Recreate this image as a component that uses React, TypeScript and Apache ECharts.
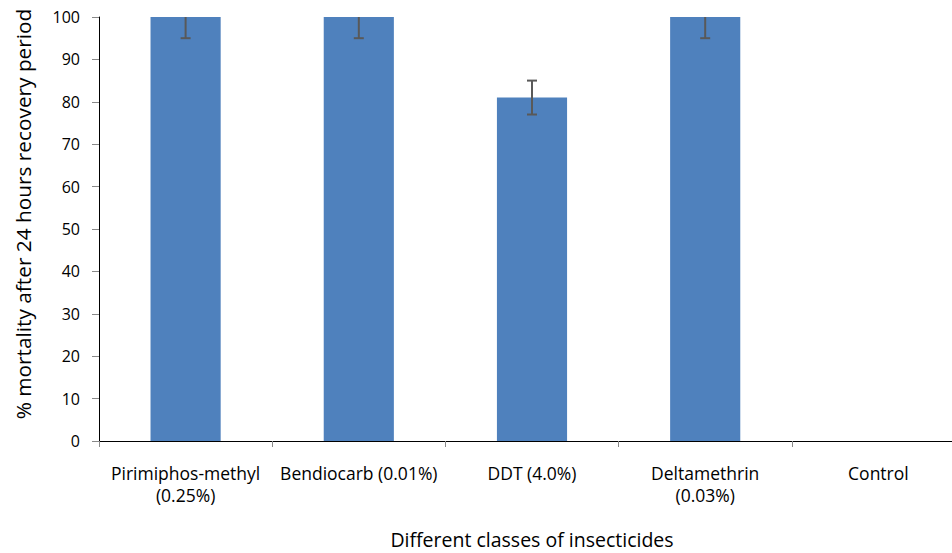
import React, { useEffect, useRef } from "react";
import * as echarts from "echarts";

const categories = [
  "Pirimiphos-methyl\n(0.25%)",
  "Bendiocarb (0.01%)",
  "DDT (4.0%)",
  "Deltamethrin\n(0.03%)",
  "Control",
];
const mortality = [100, 100, 81, 100, 0];
const errLow = [95, 95, 77, 95, 0];
const errHigh = [105, 105, 85, 105, 0];
const yTicks = { min: 0, max: 100, interval: 10 };
const xTitle = "Different classes of insecticides";
const yTitle = "% mortality after 24 hours recovery period";

const FONT = "'Open Sans', Lato, sans-serif";

export default function App() {
  const ref = useRef<HTMLDivElement>(null);
  useEffect(() => {
    if (!ref.current) return;
    const chart = echarts.init(ref.current, null, { renderer: "svg" });
    const errData = categories
      .map((_, i) => [i, errLow[i], errHigh[i]])
      .filter((_, i) => mortality[i] > 0);
    chart.setOption({
      animation: false,
      textStyle: { fontFamily: FONT },
      grid: {
        left: 99,
        top: 17,
        width: 866,
        height: 424,
        containLabel: false,
        outerBoundsMode: "none",
      },
      graphic: [
        {
          type: "text",
          x: 23,
          y: 214,
          rotation: Math.PI / 2,
          style: {
            text: yTitle,
            fontFamily: FONT,
            fontSize: 20.8,
            fill: "#000",
            textAlign: "center",
            textVerticalAlign: "middle",
          },
        },
      ],
      xAxis: {
        type: "category",
        data: categories,
        name: xTitle,
        nameLocation: "middle",
        nameGap: 88,
        nameTextStyle: { fontFamily: FONT, fontSize: 19.5, color: "#000" },
        axisLine: { lineStyle: { color: "#000", width: 1 } },
        axisTick: { show: true, length: 6, lineStyle: { color: "#888" }, alignWithLabel: false },
        axisLabel: { fontFamily: FONT, fontSize: 17.5, color: "#000", margin: 21, lineHeight: 22, interval: 0 },
      },
      yAxis: {
        type: "value",
        min: yTicks.min,
        max: yTicks.max,
        interval: yTicks.interval,
        axisLine: { show: true, lineStyle: { color: "#000", width: 1 } },
        axisTick: { show: true, length: 7, lineStyle: { color: "#888" } },
        splitLine: { show: false },
        axisLabel: { fontFamily: FONT, fontSize: 16, color: "#000", margin: 19 },
      },
      series: [
        {
          type: "bar",
          data: mortality,
          barWidth: "40.5%",
          itemStyle: { color: "#4F81BD" },
        },
        {
          type: "custom",
          clip: true,
          data: errData,
          renderItem: (params: any, api: any) => {
            const x = api.value(0);
            const lo = api.coord([x, api.value(1)]);
            const hi = api.coord([x, api.value(2)]);
            const half = 5;
            const style = { stroke: "#595959", lineWidth: 2 };
            return {
              type: "group",
              children: [
                { type: "line", shape: { x1: lo[0], y1: lo[1], x2: hi[0], y2: hi[1] }, style },
                { type: "line", shape: { x1: lo[0] - half, y1: lo[1], x2: lo[0] + half, y2: lo[1] }, style },
                { type: "line", shape: { x1: hi[0] - half, y1: hi[1], x2: hi[0] + half, y2: hi[1] }, style },
              ],
            };
          },
          z: 10,
        },
      ],
    });
    return () => chart.dispose();
  }, []);
  return <div ref={ref} style={{ position: "fixed", left: 0, top: 0, width: 952, height: 553, background: "#fff" }} />;
}
